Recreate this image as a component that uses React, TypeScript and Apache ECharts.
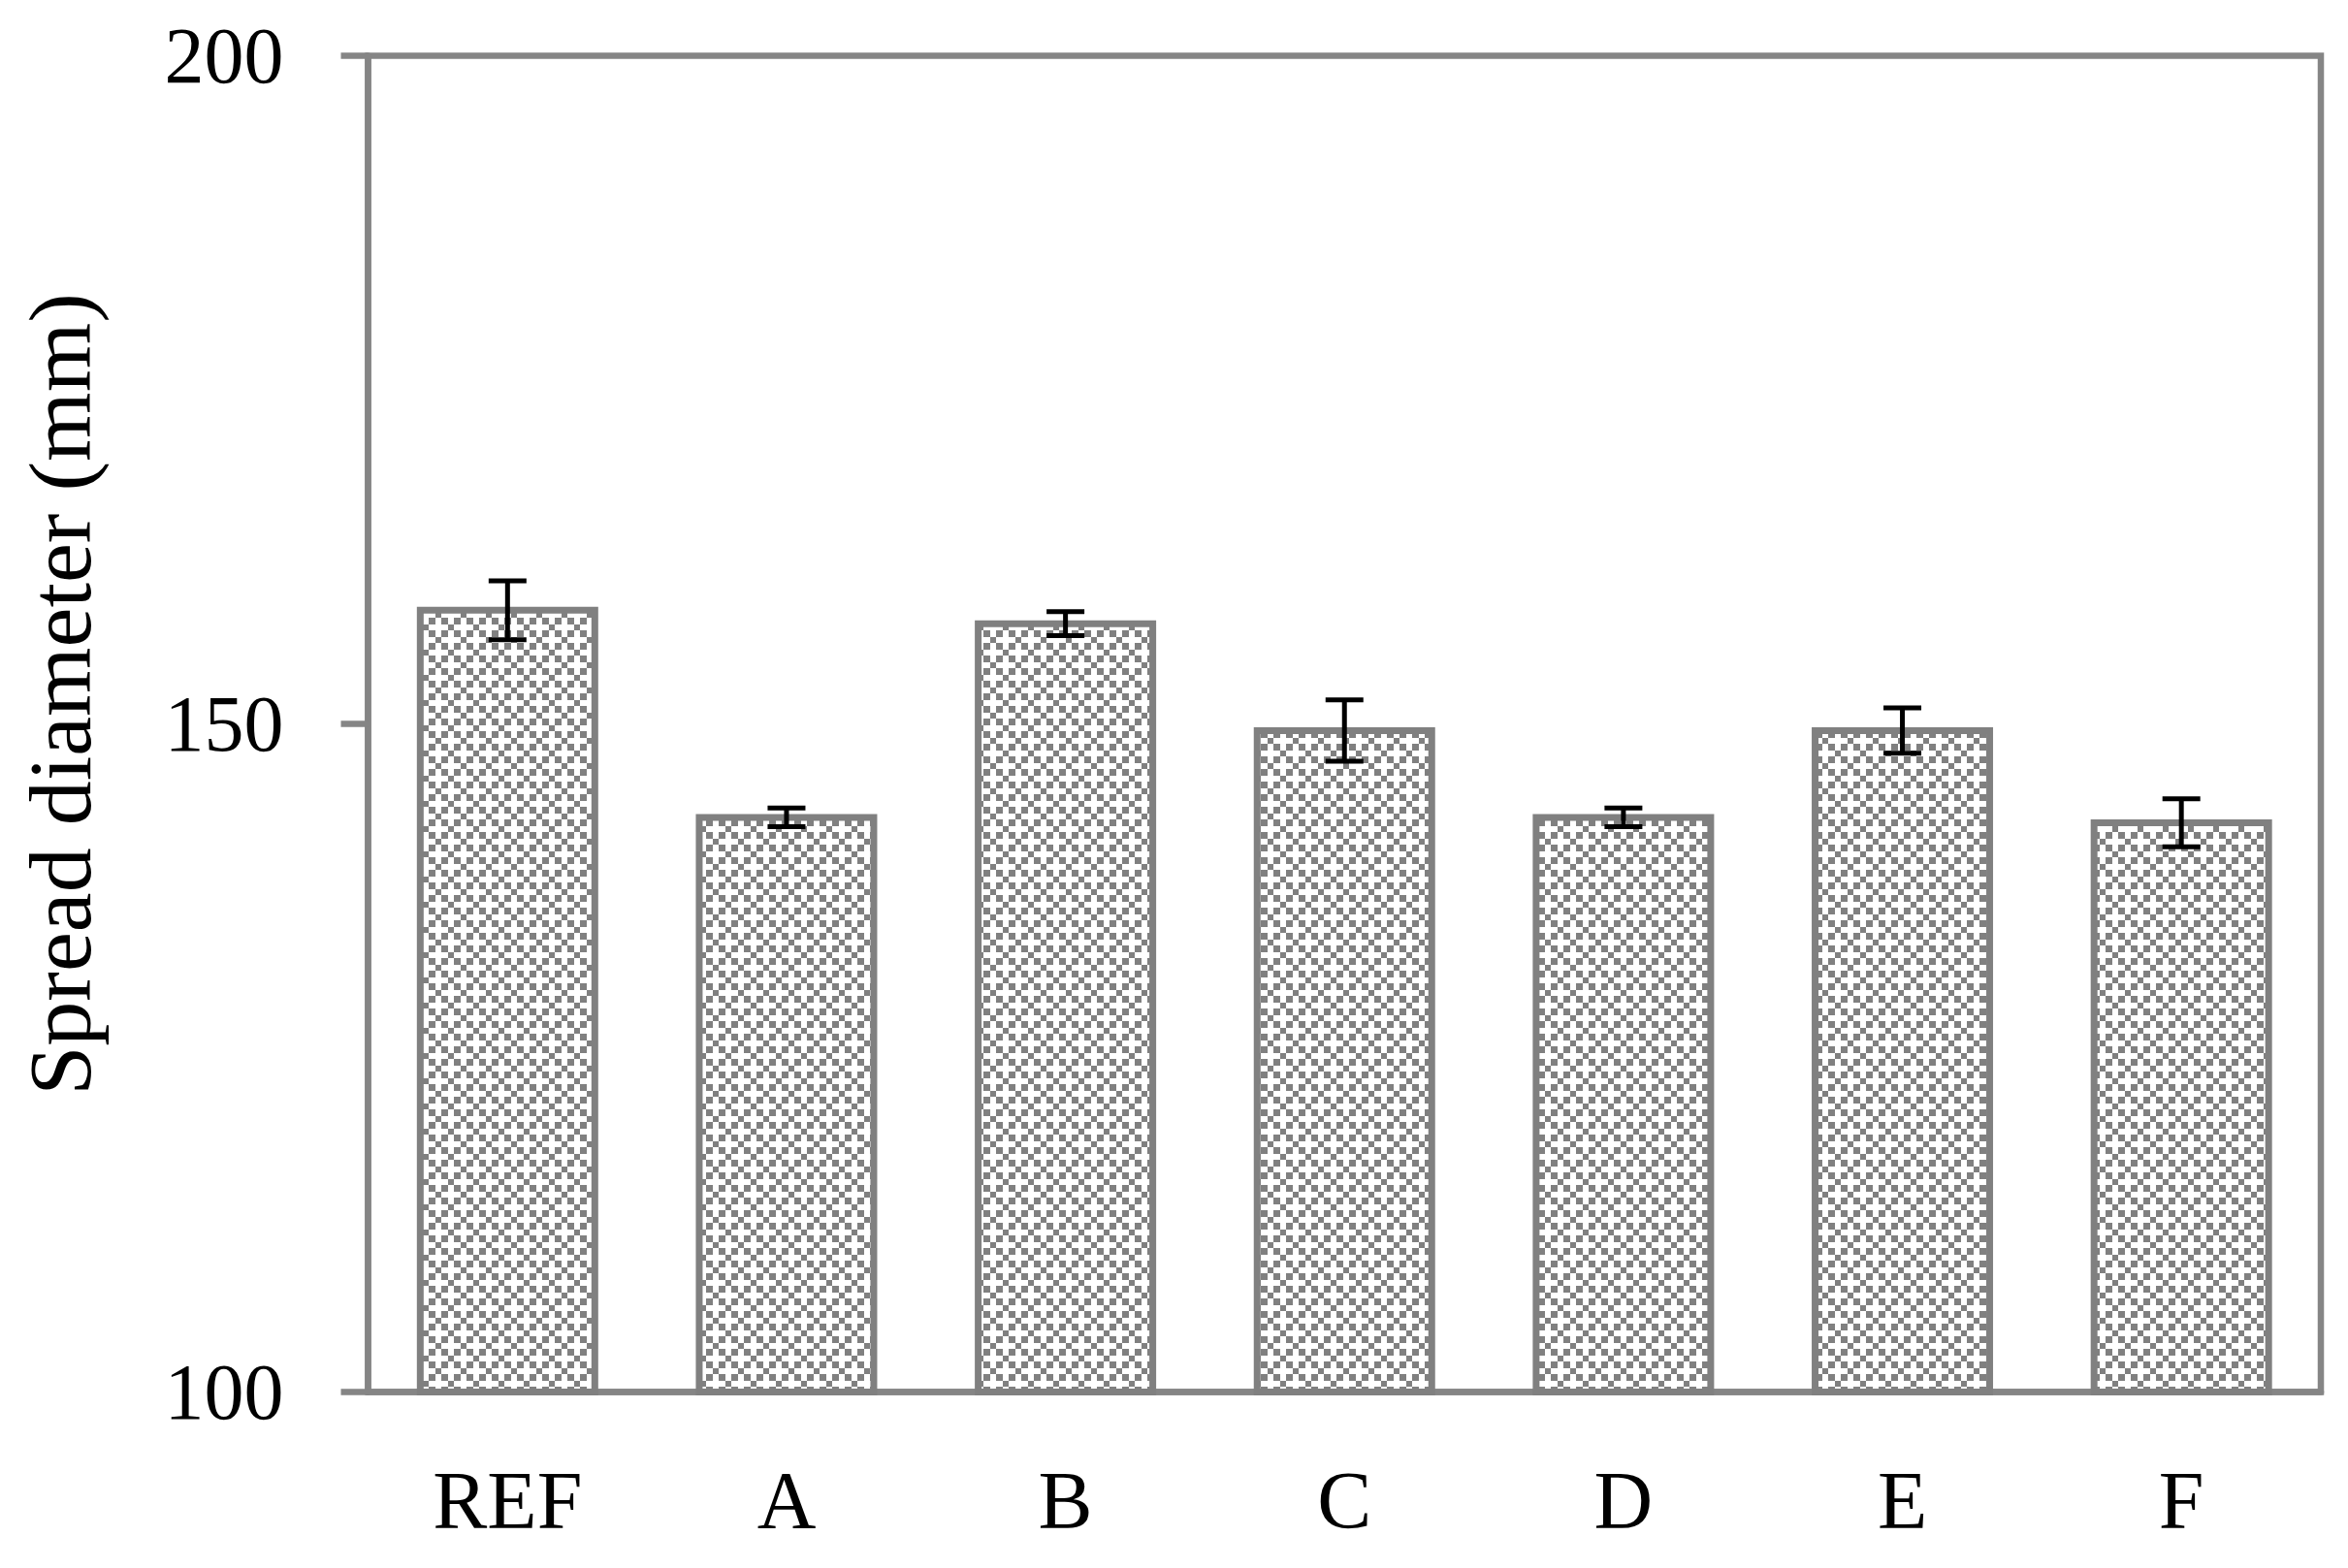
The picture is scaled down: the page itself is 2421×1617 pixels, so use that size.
import React, { useEffect, useRef } from "react";
import * as echarts from "echarts";

const categories = ["REF", "A", "B", "C", "D", "E", "F"];
const meanValues = [158.5, 143.0, 157.5, 149.5, 143.0, 149.5, 142.6];
const errorValues = [2.2, 0.7, 0.9, 2.3, 0.7, 1.7, 1.8];
const yTicks = [100, 150, 200];
const yAxisTitle = "Spread diameter (mm)";

function makePattern(): string {
  const c = document.createElement("canvas");
  c.width = 26;
  c.height = 26;
  const ctx = c.getContext("2d")!;
  ctx.fillStyle = "#ffffff";
  ctx.fillRect(0, 0, 26, 26);
  ctx.fillStyle = "#808080";
  const edges = [0, 7, 13, 20, 26];
  const cells = [
    [1, 0, 1, 0],
    [0, 1, 0, 0],
    [1, 0, 1, 0],
    [0, 0, 0, 1],
  ];
  for (let r = 0; r < 4; r++) {
    for (let col = 0; col < 4; col++) {
      if (cells[r][col]) {
        ctx.fillRect(edges[col], edges[r], edges[col + 1] - edges[col], edges[r + 1] - edges[r]);
      }
    }
  }
  return c.toDataURL();
}

export default function App() {
  const ref = useRef<HTMLDivElement>(null);
  useEffect(() => {
    if (!ref.current) return;
    const chart = echarts.init(ref.current, undefined, { renderer: "svg" });
    const pattern = makePattern();
    const barData = categories.map((_, i) => [i, meanValues[i]]);
    const errData = categories.map((_, i) => [i, meanValues[i] - errorValues[i], meanValues[i] + errorValues[i]]);
    const axisColor = "#858585";
    const barHalfWidth = 90;
    chart.setOption({
      animation: false,
      backgroundColor: "#ffffff",
      grid: {
        left: 379.5,
        right: 28,
        top: 57.5,
        bottom: 181.5,
        show: true,
        borderColor: axisColor,
        borderWidth: 6.5,
        backgroundColor: "transparent",
      },
      xAxis: {
        type: "category",
        data: categories,
        axisLine: { show: true, lineStyle: { color: axisColor, width: 6.5 } },
        axisTick: { show: false },
        axisLabel: {
          color: "#000",
          fontFamily: "Liberation Serif",
          fontSize: 84,
          margin: 70,
        },
      },
      yAxis: {
        type: "value",
        min: 100,
        max: 200,
        interval: 50,
        axisLine: { show: true, lineStyle: { color: axisColor, width: 6.5 } },
        axisTick: { show: true, length: 28, lineStyle: { color: axisColor, width: 6.5 } },
        splitLine: { show: false },
        axisLabel: {
          color: "#000",
          fontFamily: "Liberation Serif",
          fontSize: 82,
          margin: 87,
          formatter: (v: number) => (yTicks.includes(v) ? String(v) : ""),
        },
      },
      graphic: [
        {
          type: "text",
          x: 62,
          y: 716,
          rotation: Math.PI / 2,
          style: {
            text: yAxisTitle,
            fill: "#000",
            font: "92px 'Liberation Serif'",
            align: "center",
            verticalAlign: "middle",
          },
        },
      ],
      series: [
        {
          type: "custom",
          data: barData,
          encode: { x: 0, y: 1 },
          z: 2,
          renderItem: (params: any, api: any) => {
            const i = api.value(0);
            const top = api.coord([i, api.value(1)]);
            const base = api.coord([i, 100]);
            return {
              type: "rect",
              shape: {
                x: top[0] - barHalfWidth,
                y: top[1],
                width: barHalfWidth * 2,
                height: base[1] - top[1],
              },
              style: {
                fill: { image: pattern, repeat: "repeat" },
                stroke: "#808080",
                lineWidth: 7,
              },
            };
          },
        },
        {
          type: "custom",
          data: errData,
          encode: { x: 0, y: [1, 2] },
          z: 5,
          renderItem: (params: any, api: any) => {
            const i = api.value(0);
            const lo = api.coord([i, api.value(1)]);
            const hi = api.coord([i, api.value(2)]);
            const hw = 19.5;
            const style = { stroke: "#000", lineWidth: 5 };
            return {
              type: "group",
              children: [
                { type: "line", shape: { x1: lo[0], y1: lo[1], x2: hi[0], y2: hi[1] }, style },
                { type: "line", shape: { x1: lo[0] - hw, y1: lo[1], x2: lo[0] + hw, y2: lo[1] }, style },
                { type: "line", shape: { x1: hi[0] - hw, y1: hi[1], x2: hi[0] + hw, y2: hi[1] }, style },
              ],
            };
          },
        },
      ],
    });
    return () => chart.dispose();
  }, []);
  return (
    <div
      ref={ref}
      style={{ position: "absolute", left: 0, top: 0, width: 2421, height: 1617, background: "#fff" }}
    />
  );
}
